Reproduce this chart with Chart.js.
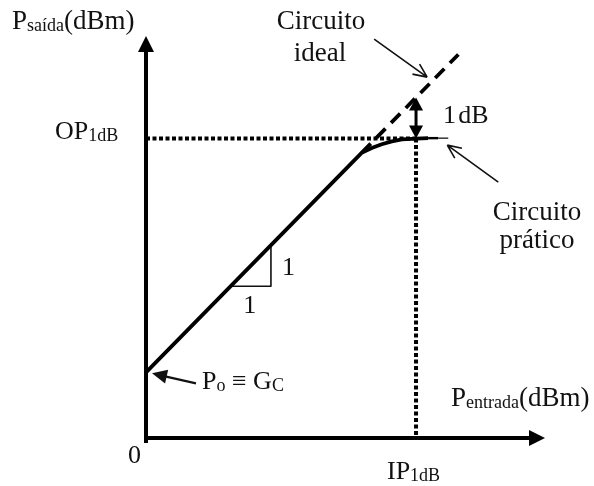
<!DOCTYPE html>
<html>
<head>
<meta charset="utf-8">
<title>Ponto de compressão de 1 dB</title>
<script src="https://cdn.jsdelivr.net/npm/chart.js@4.4.1/dist/chart.umd.min.js"></script>
<style>
  html, body { margin: 0; padding: 0; background: #fff; }
  #wrap { width: 594px; height: 486px; }
</style>
</head>
<body>
<div id="wrap"><canvas id="chart"></canvas></div>
<script>
// Valores em dB / dBm (escala relativa)
const ganhoGc = 1.6;      // Po ≡ GC
const ip1dB = 6.7;
const op1dB = 7.3;
const compressao = 1;     // 1 dB

// circuito prático: reta de inclinação 1 até o joelho, depois compressão
const pinPratico  = [0, 5.35, 5.6, 5.85, 6.1, 6.35, 6.7, 7.0, 7.25, 7.5];
const poutPratico = [1.6, 6.95, 7.07, 7.16, 7.23, 7.28, 7.3, 7.31, 7.31, 7.31];

// circuito ideal: continuação tracejada da reta
const pinIdeal  = [5.35, 7.75];
const poutIdeal = [6.95, 9.35];

// triângulo de inclinação 1:1
const pinTriangulo  = [2.1, 3.1, 3.1];
const poutTriangulo = [3.7, 3.7, 4.7];

const limitesX = [0, 9.9];
const limitesY = [0, 9.8];

const FONTE = '"Liberation Serif", "Times New Roman", serif';
const COR = '#111';

function pontos(xs, ys) {
    return xs.map((x, i) => ({ x: x, y: ys[i] }));
}

function textoComposto(ctx, x, y, partes) {
    let cx = x;
    for (const [t, tam, dy] of partes) {
        ctx.font = tam + 'px ' + FONTE;
        ctx.fillText(t, cx, y + (dy || 0));
        cx += ctx.measureText(t).width;
    }
}

function pontaCheia(ctx, tx, ty, ang, comp, meia) {
    ctx.beginPath();
    ctx.moveTo(tx, ty);
    ctx.lineTo(tx - comp * Math.cos(ang) + meia * Math.sin(ang), ty - comp * Math.sin(ang) - meia * Math.cos(ang));
    ctx.lineTo(tx - comp * Math.cos(ang) - meia * Math.sin(ang), ty - comp * Math.sin(ang) + meia * Math.cos(ang));
    ctx.closePath();
    ctx.fill();
}

function setaAberta(ctx, x0, y0, x1, y1) {
    const ang = Math.atan2(y1 - y0, x1 - x0);
    ctx.lineWidth = 1.6;
    ctx.beginPath();
    ctx.moveTo(x0, y0);
    ctx.lineTo(x1, y1);
    for (const d of [-0.42, 0.42]) {
        ctx.moveTo(x1, y1);
        ctx.lineTo(x1 - 15 * Math.cos(ang + d), y1 - 15 * Math.sin(ang + d));
    }
    ctx.stroke();
}

function setaCheia(ctx, x0, y0, x1, y1) {
    const ang = Math.atan2(y1 - y0, x1 - x0);
    ctx.lineWidth = 2.2;
    ctx.beginPath();
    ctx.moveTo(x0, y0);
    ctx.lineTo(x1 - 10 * Math.cos(ang), y1 - 10 * Math.sin(ang));
    ctx.stroke();
    pontaCheia(ctx, x1, y1, ang, 15, 7);
}

// eixos com setas, cotas e rótulos
const anotacoes = {
    id: 'anotacoes',
    afterDatasetsDraw(chart) {
        const ctx = chart.ctx;
        const sx = chart.scales.x, sy = chart.scales.y;
        const px = v => sx.getPixelForValue(v);
        const py = v => sy.getPixelForValue(v);
        const x0 = px(limitesX[0]), y0 = py(limitesY[0]);
        const xFim = px(limitesX[1]), yFim = py(limitesY[1]);

        ctx.save();
        ctx.fillStyle = '#000';
        ctx.strokeStyle = '#000';

        // eixos
        ctx.lineWidth = 4;
        ctx.beginPath();
        ctx.moveTo(x0, y0 + 5);
        ctx.lineTo(x0, yFim + 14);
        ctx.moveTo(x0 - 2, y0);
        ctx.lineTo(xFim - 14, y0);
        ctx.stroke();
        pontaCheia(ctx, x0, yFim, -Math.PI / 2, 16, 8);
        pontaCheia(ctx, xFim, y0, 0, 16, 8);

        // cota de 1 dB
        const xc = px(ip1dB);
        const yb = py(op1dB), yt = py(op1dB + compressao);
        ctx.lineWidth = 3;
        ctx.beginPath();
        ctx.moveTo(xc, yb - 10);
        ctx.lineTo(xc, yt + 10);
        ctx.stroke();
        pontaCheia(ctx, xc, yt, -Math.PI / 2, 13, 7);
        pontaCheia(ctx, xc, yb, Math.PI / 2, 13, 7);

        // setas indicativas
        ctx.strokeStyle = '#111';
        ctx.fillStyle = '#111';
        const ideal = { x: px(7.1) - 5, y: py(ganhoGc + 7.1) - 4 };
        setaAberta(ctx, ideal.x - 53, ideal.y - 38, ideal.x, ideal.y);
        const pratico = { x: px(pinPratico[pinPratico.length - 1]) - 1, y: py(poutPratico[poutPratico.length - 1]) + 7 };
        setaAberta(ctx, pratico.x + 51, pratico.y + 37, pratico.x, pratico.y);
        const po = { x: x0 + 6, y: py(ganhoGc) + 1 };
        setaCheia(ctx, po.x + 44, po.y + 10, po.x, po.y);

        // textos
        ctx.fillStyle = COR;
        ctx.textBaseline = 'alphabetic';
        ctx.textAlign = 'left';
        textoComposto(ctx, 12, 29, [['P', 27], ['saída', 18, 2], ['(dBm)', 27]]);
        textoComposto(ctx, 451, 406, [['P', 27], ['entrada', 18, 2], ['(dBm)', 27]]);
        textoComposto(ctx, 55, 139, [['OP', 26], ['1dB', 18, 2]]);
        textoComposto(ctx, 387, 479, [['IP', 26], ['1dB', 18, 2]]);
        textoComposto(ctx, 202, 389, [['P', 26], ['o', 18, 2], [' ≡ G', 26], ['C', 18, 2]]);
        textoComposto(ctx, 128, 463, [['0', 26]]);
        textoComposto(ctx, 443, 123, [['1', 26], ['\u200adB', 26]]);

        ctx.font = '27px ' + FONTE;
        ctx.textAlign = 'center';
        ctx.fillText('Circuito', 321, 29);
        ctx.fillText('ideal', 320, 61);
        ctx.fillText('Circuito', 537, 220);
        ctx.fillText('prático', 537, 248);

        // rótulos do triângulo 1:1
        ctx.font = '26px ' + FONTE;
        ctx.textAlign = 'left';
        ctx.fillText('1', px(pinTriangulo[2]) + 11, py((poutTriangulo[1] + poutTriangulo[2]) / 2) + 9);
        ctx.textAlign = 'center';
        ctx.fillText('1', px((pinTriangulo[0] + pinTriangulo[1]) / 2) - 1, py(poutTriangulo[0]) + 27);

        ctx.restore();
    }
};

const ctx = document.getElementById('chart').getContext('2d');
new Chart(ctx, {
    type: 'scatter',
    data: {
        datasets: [{
            label: 'Circuito prático',
            data: pontos(pinPratico, poutPratico),
            showLine: true,
            borderColor: '#000',
            borderWidth: 3.8,
            segment: {
                borderWidth: c => c.p0DataIndex >= pinPratico.length - 2 ? 1.2 : (c.p0DataIndex >= pinPratico.length - 3 ? 2.4 : 3.8)
            }
        }, {
            label: 'Circuito ideal',
            data: pontos(pinIdeal, poutIdeal),
            showLine: true,
            borderColor: '#000',
            borderWidth: 3.8,
            borderDash: [13, 8]
        }, {
            label: 'OP1dB',
            data: pontos([0, ip1dB], [op1dB, op1dB]),
            showLine: true,
            borderColor: '#000',
            borderWidth: 4,
            borderDash: [4, 2.5]
        }, {
            label: 'IP1dB',
            data: pontos([ip1dB, ip1dB], [op1dB, 0]),
            showLine: true,
            borderColor: '#000',
            borderWidth: 4,
            borderDash: [4, 2.5]
        }, {
            label: 'Inclinação',
            data: pontos(pinTriangulo, poutTriangulo),
            showLine: true,
            borderColor: '#111',
            borderWidth: 1.6
        }]
    },
    options: {
        responsive: true,
        maintainAspectRatio: false,
        animation: false,
        events: [],
        layout: { padding: { left: 146, right: 49, top: 36, bottom: 48 } },
        elements: {
            point: { radius: 0 },
            line: { tension: 0, borderCapStyle: 'butt', borderJoinStyle: 'round' }
        },
        datasets: { scatter: { clip: false } },
        scales: {
            x: { type: 'linear', display: false, min: limitesX[0], max: limitesX[1] },
            y: { type: 'linear', display: false, min: limitesY[0], max: limitesY[1] }
        },
        plugins: {
            legend: { display: false },
            tooltip: { enabled: false }
        }
    },
    plugins: [anotacoes]
});
</script>
</body>
</html>
